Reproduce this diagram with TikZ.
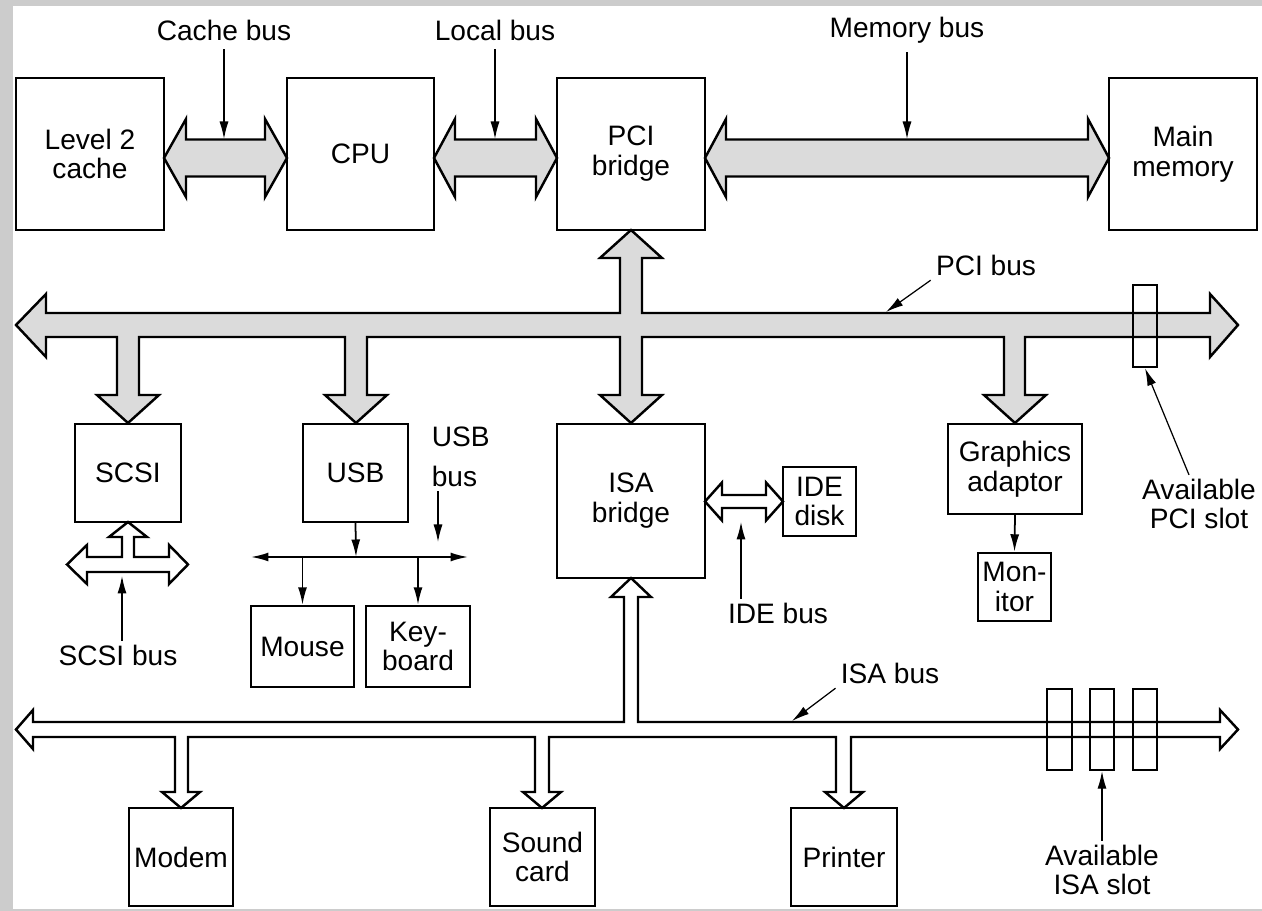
\documentclass[tikz,border=0pt]{standalone}
\usepackage{fontspec}
\setmainfont{Liberation Sans}
\usetikzlibrary{arrows.meta}

% fat bus with a head at both ends: style, left tip x, right tip x, y, half shaft, half head, head length
\newcommand{\hbusarrow}[7]{%
  \draw[#1] (#2,#4) -- ({#2+#7},{#4-#6}) -- ({#2+#7},{#4-#5}) -- ({#3-#7},{#4-#5})
    -- ({#3-#7},{#4-#6}) -- (#3,#4) -- ({#3-#7},{#4+#6}) -- ({#3-#7},{#4+#5})
    -- ({#2+#7},{#4+#5}) -- ({#2+#7},{#4+#6}) -- cycle;}

\begin{document}
\begin{tikzpicture}[
    x=0.02cm, y=-0.02cm,
    box/.style={draw, line width=1.4pt, align=center, inner sep=2pt,
                font=\fontsize{16}{17}\selectfont},
    lbl/.style={align=center, inner sep=2pt, font=\fontsize{16}{17}\selectfont},
    fatbus/.style={draw, line width=1.4pt, fill=gray!28, line join=miter},
    thinbus/.style={draw, line width=1.4pt, fill=white, line join=miter},
    slot/.style={draw, line width=1.4pt, inner sep=0pt, minimum width=0.49cm},
    pointer/.style={-{Latex[length=3.5mm,width=1.8mm]}, line width=0.7pt},
    link/.style={-{Latex[length=3.5mm,width=1.8mm]}, line width=1pt}
]
\useasboundingbox (0,0) rectangle (1262,911);
\fill[gray!40] (0,0) rectangle (1262,911);
\fill[white] (13,6) rectangle (1262,909);

% top row
\node[box, minimum width=2.96cm, minimum height=3.04cm] (cache) at (90,154) {Level 2\\cache};
\node[box, minimum width=2.94cm, minimum height=3.04cm] (cpu) at (360.5,154) {CPU};
\node[box, minimum width=2.96cm, minimum height=3.04cm] (pcibr) at (631,154) {PCI\\bridge};
\node[box, minimum width=2.96cm, minimum height=3.04cm] (mem) at (1183,154) {Main\\memory};

\hbusarrow{fatbus}{164}{287}{158}{18.5}{39}{22}
\hbusarrow{fatbus}{434}{557}{158}{18.5}{39}{21}
\hbusarrow{fatbus}{705}{1109}{158}{18.5}{39}{21}

\node[lbl] (cachelbl) at (224,30) {Cache bus};
\node[lbl] (locallbl) at (495,30) {Local bus};
\node[lbl] (memlbl) at (907,30) {Memory bus};
\coordinate (cachetip) at (224,139);
\coordinate (localtip) at (495,139);
\coordinate (memtip) at (907,139);
\draw[pointer, shorten <=3pt] (cachelbl.south) -- (cachetip);
\draw[pointer, shorten <=3pt] (locallbl.south) -- (localtip);
\draw[pointer, shorten <=3pt] (memlbl.south) -- (memtip);

% PCI bus
\draw[fatbus] (16,325) -- (46,294) -- (46,313) -- (620,313) -- (620,258) -- (600,258)
  -- (631,230) -- (662,258) -- (642,258) -- (642,313) -- (1210,313) -- (1210,294)
  -- (1238,325) -- (1210,357) -- (1210,337) -- (1025,337) -- (1025,395) -- (1046,395)
  -- (1015,423) -- (984,395) -- (1004,395) -- (1004,337) -- (642,337) -- (642,395)
  -- (662,395) -- (631,423) -- (600,395) -- (620,395) -- (620,337) -- (367,337)
  -- (367,395) -- (387,395) -- (356,423) -- (325,395) -- (345,395) -- (345,337)
  -- (139,337) -- (139,395) -- (159,395) -- (128,423) -- (97,395) -- (117,395)
  -- (117,337) -- (46,337) -- (46,357) -- cycle;
\node[slot, minimum height=1.64cm] (pcislot) at (1145,326) {};
\node[lbl] (pcilbl) at (986,265) {PCI bus};
\coordinate (pcitip) at (886,312);
\draw[pointer, shorten <=1pt] (pcilbl.south west) -- (pcitip);
\node[lbl] (pcislotlbl) at (1199,504) {Available\\PCI slot};
\draw[pointer] ([xshift=-0.2cm]pcislotlbl.north) -- (pcislot.south);

% devices on the PCI bus
\node[box, minimum width=2.12cm, minimum height=1.96cm] (scsi) at (128,473) {SCSI};
\node[box, minimum width=2.1cm, minimum height=1.96cm] (usb) at (355.5,473) {USB};
\node[box, minimum width=2.96cm, minimum height=3.08cm] (isabr) at (631,501) {ISA\\bridge};
\node[box, minimum width=2.68cm, minimum height=1.8cm] (gfx) at (1015,469) {Graphics\\adaptor};
\node[box, minimum width=1.46cm, minimum height=1.36cm] (mon) at (1014.5,587) {Mon-\\itor};
\draw[link] (gfx.south) -- (mon.north);

% SCSI bus
\draw[thinbus] (67,564.5) -- (87,545) -- (87,557) -- (122,557) -- (122,537) -- (109,537)
  -- (128,522) -- (147,537) -- (134,537) -- (134,557) -- (169,557) -- (169,545)
  -- (188,564.5) -- (169,584) -- (169,572) -- (87,572) -- (87,584) -- cycle;
\node[lbl] (scsilbl) at (118,655) {SCSI bus};
\coordinate (scsitip) at (122,576);
\draw[pointer] (scsilbl.north -| scsitip) -- (scsitip);

% USB bus
\node[box, minimum width=2.06cm, minimum height=1.62cm] (mouse) at (302.5,646.5) {Mouse};
\node[box, minimum width=2.08cm, minimum height=1.62cm] (kbd) at (418,646.5) {Key-\\board};
\coordinate (usbl) at (251,557);
\coordinate (usbr) at (468,557);
\coordinate (usbhub) at (356,557);
\draw[line width=1pt, {Latex[length=3.5mm,width=1.8mm]}-{Latex[length=3.5mm,width=1.8mm]}] (usbl) -- (usbr);
\draw[link] (usb.south) -- (usbhub);
\draw[link] (mouse.north |- usbl) -- (mouse.north);
\draw[link] (kbd.north |- usbl) -- (kbd.north);
\node[lbl, align=left, anchor=west] (usblbl) at (428,457) {USB\\[6pt]bus};
\coordinate (usbtip) at (438,542);
\draw[pointer] (usblbl.south -| usbtip) -- (usbtip);

% IDE bus
\node[box, minimum width=1.46cm, minimum height=1.38cm] (ide) at (819.5,501.5) {IDE\\disk};
\hbusarrow{thinbus}{705}{783}{501.5}{6.5}{19}{17}
\node[lbl] (idelbl) at (778,613) {IDE bus};
\coordinate (idetip) at (741,522);
\draw[pointer] (idelbl.north -| idetip) -- (idetip);

% ISA bus
\draw[thinbus] (16,729.5) -- (33,710) -- (33,722) -- (624,722) -- (624,597) -- (611,597)
  -- (631,578) -- (651,597) -- (638,597) -- (638,722) -- (1220,722) -- (1220,710)
  -- (1238,729.5) -- (1220,749) -- (1220,737) -- (851,737) -- (851,792) -- (863,792)
  -- (844,808) -- (825,792) -- (836,792) -- (836,737) -- (549,737) -- (549,792)
  -- (561,792) -- (542,808) -- (523,792) -- (535,792) -- (535,737) -- (188,737)
  -- (188,792) -- (200,792) -- (181,808) -- (162,792) -- (175,792) -- (175,737)
  -- (33,737) -- (33,749) -- cycle;
\node[slot, minimum height=1.62cm] (isaslota) at (1059.5,729.5) {};
\node[slot, minimum height=1.62cm] (isaslotb) at (1102,729.5) {};
\node[slot, minimum height=1.62cm] (isaslotc) at (1145,729.5) {};
\node[lbl] (isalbl) at (890,673) {ISA bus};
\coordinate (isatip) at (792,721);
\draw[pointer, shorten <=1pt] (isalbl.south west) -- (isatip);
\node[lbl] (isaslotlbl) at (1102,870) {Available\\ISA slot};
\draw[pointer] (isaslotlbl.north) -- (isaslotb.south);

% devices on the ISA bus
\node[box, minimum width=2.08cm, minimum height=1.96cm] (modem) at (181,857) {Modem};
\node[box, minimum width=2.1cm, minimum height=1.96cm] (sound) at (542.5,857) {Sound\\card};
\node[box, minimum width=2.12cm, minimum height=1.96cm] (printer) at (844,857) {Printer};
\end{tikzpicture}
\end{document}
